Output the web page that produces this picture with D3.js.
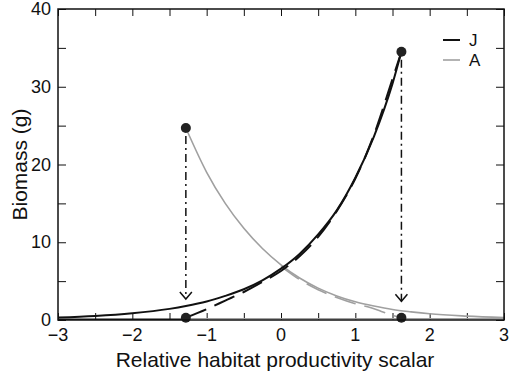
<!DOCTYPE html>
<html>
<head>
<meta charset="utf-8">
<script src="https://cdn.jsdelivr.net/npm/d3@7"></script>
<style>
  body { margin: 0; background: #fff; }
  text { font-family: "Liberation Sans", Arial, sans-serif; }
</style>
</head>
<body>
<svg id="chart" width="510" height="374"></svg>
<script>
// juveniles (J), solid curve
const jX = [-3, -2.5, -2, -1.5, -1.28, -1, -0.75, -0.5, -0.25, 0, 0.25, 0.5, 0.75, 1, 1.25, 1.5, 1.62];
const jY = [0.31, 0.51, 0.86, 1.43, 1.79, 2.37, 3.1, 3.96, 5.1, 6.6, 8.5, 11.0, 14.1, 18.3, 23.6, 30.4, 34.5];
// juveniles, dashed curve
const jdX = [-1.28, -1, -0.75, -0.5, -0.25, 0, 0.25, 0.5, 0.75, 1, 1.25, 1.5, 1.62];
const jdY = [0.3, 1.4, 2.5, 3.6, 4.9, 6.3, 8.2, 10.7, 14.0, 18.2, 23.8, 31.0, 34.5];
// adults (A), solid curve
const aX = [-1.28, -1, -0.75, -0.5, -0.25, 0, 0.25, 0.5, 0.75, 1, 1.25, 1.5, 1.75, 2, 2.5, 3];
const aY = [24.7, 19.0, 15.0, 11.8, 9.2, 7.1, 5.4, 4.1, 3.1, 2.35, 1.8, 1.35, 1.05, 0.8, 0.5, 0.3];
// adults, dashed curve
const adX = [0, 0.25, 0.5, 0.75, 1, 1.2, 1.35, 1.5, 1.62];
const adY = [6.9, 5.2, 3.9, 2.9, 2.1, 1.6, 1.1, 0.6, 0.3];
// end points and arrows
const dotX = [-1.28, -1.28, 1.62, 1.62];
const dotY = [24.7, 0.3, 34.5, 0.3];
const arrowX = [-1.28, 1.62];
const arrowTop = [24.7, 34.5];
const arrowTip = [2.7, 2.4];
const xTicks = [-3, -2, -1, 0, 1, 2, 3];
const yTicks = [0, 10, 20, 30, 40];
const legendNames = ["J", "A"];
const legendColors = ["#111", "#a0a0a0"];

const svg = d3.select("#chart");
const mLeft = 58, mRight = 504, mTop = 9, mBottom = 320;
const x = d3.scaleLinear().domain([-3, 3]).range([mLeft, mRight]);
const y = d3.scaleLinear().domain([0, 40]).range([mBottom, mTop]);

svg.append("clipPath").attr("id", "clip")
  .append("rect").attr("x", mLeft).attr("y", mTop)
  .attr("width", mRight - mLeft).attr("height", mBottom - mTop);

// tick marks inside the frame, every half unit / 5 g
const fmt = d => d < 0 ? "\u2212" + Math.abs(d) : String(d);
const xMinor = d3.range(-3, 3.01, 0.5);
const yMinor = d3.range(0, 40.01, 5);

svg.append("g").attr("transform", `translate(0,${mBottom})`)
  .call(d3.axisBottom(x).tickValues(xMinor).tickSize(-7).tickFormat(""))
  .call(g => g.select(".domain").remove());
svg.append("g").attr("transform", `translate(0,${mTop})`)
  .call(d3.axisTop(x).tickValues(xMinor).tickSize(-7).tickFormat(""))
  .call(g => g.select(".domain").remove());
svg.append("g").attr("transform", `translate(${mLeft},0)`)
  .call(d3.axisLeft(y).tickValues(yMinor).tickSize(-8).tickFormat(""))
  .call(g => g.select(".domain").remove());
svg.append("g").attr("transform", `translate(${mRight},0)`)
  .call(d3.axisRight(y).tickValues(yMinor).tickSize(-8).tickFormat(""))
  .call(g => g.select(".domain").remove());
svg.selectAll(".tick line").attr("stroke", "#111").attr("stroke-width", 1);

// tick labels
svg.append("g").selectAll("text").data(xTicks).join("text")
  .attr("x", d => x(d)).attr("y", mBottom + 21)
  .attr("text-anchor", "middle").attr("font-size", 18).attr("fill", "#111")
  .text(fmt);
svg.append("g").selectAll("text").data(yTicks).join("text")
  .attr("x", mLeft - 7).attr("y", d => y(d) + 6)
  .attr("text-anchor", "end").attr("font-size", 18).attr("fill", "#111")
  .text(fmt);

// axis titles
svg.append("text").attr("x", (mLeft + mRight) / 2 - 6).attr("y", 367)
  .attr("text-anchor", "middle").attr("font-size", 21).attr("fill", "#111")
  .text("Relative habitat productivity scalar");
svg.append("text")
  .attr("transform", `translate(27,${(mTop + mBottom) / 2}) rotate(-90)`)
  .attr("text-anchor", "middle").attr("font-size", 21).attr("fill", "#111")
  .text("Biomass (g)");

const line = d3.line().x(d => x(d[0])).y(d => y(d[1])).curve(d3.curveMonotoneX);
const plot = svg.append("g").attr("clip-path", "url(#clip)");

// flat parts along the x axis
plot.append("line").attr("x1", x(-1.28)).attr("x2", x(3))
  .attr("y1", y(0.15)).attr("y2", y(0.15))
  .attr("stroke", "#a0a0a0").attr("stroke-width", 1.5);
plot.append("line").attr("x1", x(-3)).attr("x2", x(-1.28))
  .attr("y1", y(0.1)).attr("y2", y(0.1))
  .attr("stroke", "#111").attr("stroke-width", 1.5);

plot.append("path").datum(d3.zip(aX, aY)).attr("d", line)
  .attr("fill", "none").attr("stroke", "#a0a0a0").attr("stroke-width", 1.6);
plot.append("path").datum(d3.zip(adX, adY)).attr("d", line)
  .attr("fill", "none").attr("stroke", "#a0a0a0").attr("stroke-width", 1.6)
  .attr("stroke-dasharray", "22,9");
plot.append("path").datum(d3.zip(jX, jY)).attr("d", line)
  .attr("fill", "none").attr("stroke", "#111").attr("stroke-width", 2);
plot.append("path").datum(d3.zip(jdX, jdY)).attr("d", line)
  .attr("fill", "none").attr("stroke", "#111").attr("stroke-width", 2)
  .attr("stroke-dasharray", "22,9");

// dash-dot arrows
arrowX.forEach((ax, i) => {
  const px = x(ax), y0 = y(arrowTop[i]) + 8, y1 = y(arrowTip[i]);
  svg.append("line").attr("x1", px).attr("x2", px).attr("y1", y0).attr("y2", y1)
    .attr("stroke", "#111").attr("stroke-width", 1.5)
    .attr("stroke-dasharray", "8,4,2,4");
  svg.append("path")
    .attr("d", `M${px - 6},${y1 - 7}L${px},${y1}L${px + 6},${y1 - 7}`)
    .attr("fill", "none").attr("stroke", "#111").attr("stroke-width", 1.5);
});

// end points
svg.append("g").selectAll("circle").data(d3.zip(dotX, dotY)).join("circle")
  .attr("cx", d => x(d[0])).attr("cy", d => y(d[1])).attr("r", 5)
  .attr("fill", "#222");

// frame
svg.append("rect").attr("x", mLeft).attr("y", mTop)
  .attr("width", mRight - mLeft).attr("height", mBottom - mTop)
  .attr("fill", "none").attr("stroke", "#111").attr("stroke-width", 1.5);

// legend
const leg = svg.append("g");
legendNames.forEach((name, i) => {
  const ly = 40 + i * 20;
  leg.append("line").attr("x1", 443).attr("x2", 460).attr("y1", ly).attr("y2", ly)
    .attr("stroke", legendColors[i]).attr("stroke-width", i === 0 ? 2 : 1.6);
  leg.append("text").attr("x", 469).attr("y", ly + 6).attr("font-size", 17)
    .attr("fill", "#111").text(name);
});
</script>
</body>
</html>
